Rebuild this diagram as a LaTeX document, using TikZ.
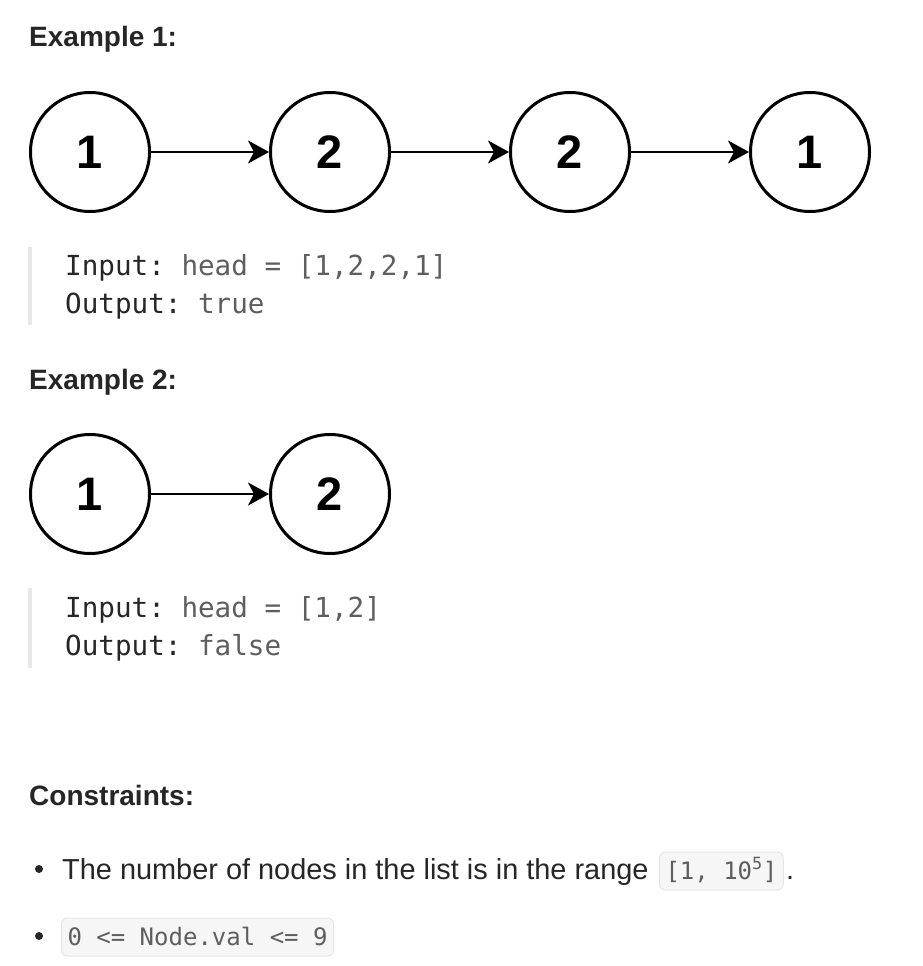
\documentclass[tikz,border=0pt]{standalone}
\usepackage{fontspec}
\setmainfont{Liberation Sans}
\setmonofont{DejaVu Sans Mono}
\usetikzlibrary{arrows.meta}
\frenchspacing
\definecolor{ink}{HTML}{262626}
\definecolor{codegray}{HTML}{5E5E5E}
\definecolor{barcol}{HTML}{E8E8E8}
\definecolor{codebg}{HTML}{F6F6F6}
\definecolor{codeborder}{HTML}{E6E6E6}
\tikzset{
  listnode/.style={circle, draw=black, line width=3pt, minimum size=119pt, inner sep=0pt,
    font=\fontsize{47}{47}\selectfont\bfseries},
  link/.style={line width=2.6pt, -{Stealth[length=21pt,width=23pt,inset=6pt]}},
  heading/.style={font=\fontsize{28}{34}\selectfont\bfseries, text=ink, inner sep=0pt},
  codeline/.style={font=\fontsize{27.6}{33}\selectfont\ttfamily, text=ink, inner sep=0pt},
  quotebar/.style={line width=3.5pt, draw=barcol},
  bodytext/.style={font=\fontsize{28.9}{34}\selectfont, text=ink, inner sep=0pt},
  bulletdot/.style={circle, fill=ink, minimum size=8pt, inner sep=0pt},
  codebox/.style={font=\fontsize{24}{28}\selectfont\ttfamily, text=codegray, fill=codebg,
    draw=codeborder, line width=1pt, rounded corners=6pt, inner xsep=6pt, inner ysep=6pt,
    text height=21pt, text depth=5pt}
}
\begin{document}
\begin{tikzpicture}[x=1pt,y=-1pt]
\useasboundingbox[fill=white] (0,0) rectangle (922,966);

% Example 1
\node[heading, anchor=base west] (h1) at (29,47) {Example 1:};
\node[listnode] (a1) at (90,152) {1};
\node[listnode] (a2) at (330,152) {2};
\node[listnode] (a3) at (570,152) {2};
\node[listnode] (a4) at (810,152) {1};
\draw[link] (a1) -- (a2);
\draw[link] (a2) -- (a3);
\draw[link] (a3) -- (a4);
\coordinate (q1t) at (30,247);
\coordinate (q1b) at (30,325);
\draw[quotebar] (q1t) -- (q1b);
\node[codeline, anchor=base west] (in1) at (65,275) {Input: \textcolor{codegray}{head = [1,2,2,1]}};
\node[codeline, anchor=base west] (out1) at (65,313) {Output: \textcolor{codegray}{true}};

% Example 2
\node[heading, anchor=base west] (h2) at (29,389) {Example 2:};
\node[listnode] (b1) at (90,494) {1};
\node[listnode] (b2) at (330,494) {2};
\draw[link] (b1) -- (b2);
\coordinate (q2t) at (30,588);
\coordinate (q2b) at (30,668);
\draw[quotebar] (q2t) -- (q2b);
\node[codeline, anchor=base west] (in2) at (65,617) {Input: \textcolor{codegray}{head = [1,2]}};
\node[codeline, anchor=base west] (out2) at (65,655) {Output: \textcolor{codegray}{false}};

% Constraints
\node[heading, anchor=base west] (h3) at (29,805) {Constraints:};
\node[bulletdot] (d1) at (39,869) {};
\node[bodytext, anchor=base west] (t1) at (62,879) {The number of nodes in the list is in the range};
\node[codebox, anchor=base west] (c1) at (659,879) {[1, 10\textsuperscript{5}]};
\node[bodytext, anchor=base west] (p1) at (786,879) {.};
\node[bulletdot] (d2) at (39,936) {};
\node[codebox, anchor=base west] (c2) at (61,945) {0 <= Node.val <= 9};
\end{tikzpicture}
\end{document}
